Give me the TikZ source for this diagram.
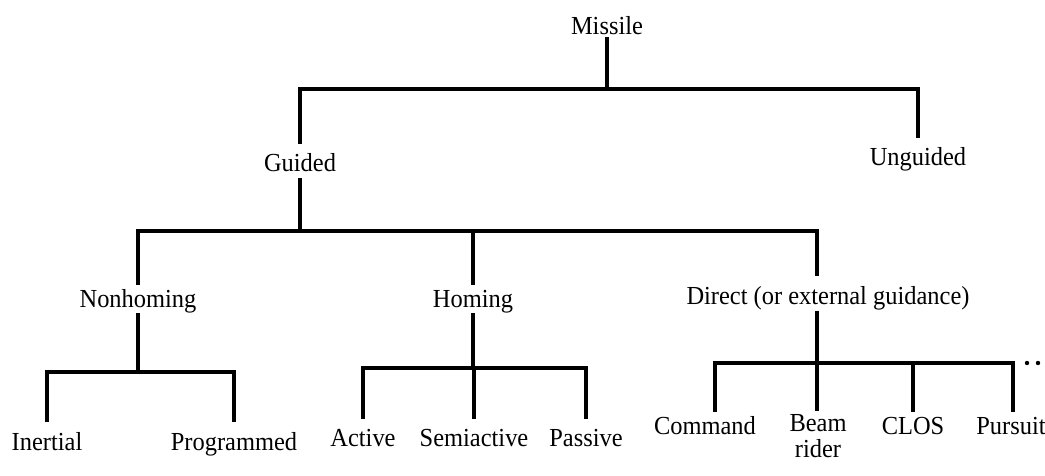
\documentclass[tikz,border=0pt]{standalone}
\usepackage{fontspec}
\setmainfont{Liberation Serif}[FakeStretch=0.94]
\begin{document}
\begin{tikzpicture}[x=1pt,y=-1pt,
  lbl/.style={anchor=base,inner sep=0pt,outer sep=0pt,text height=17pt,text depth=5pt,font=\fontsize{26}{30}\selectfont},
  lbltwo/.style={anchor=north,inner sep=0pt,outer sep=0pt,align=center,font=\fontsize{26}{26}\selectfont},
  tree/.style={line width=3.2pt,line cap=rect,line join=miter}]
\useasboundingbox (0,0) rectangle (1045,475);
% labels
\node[lbl] (missile) at (607,34) {Missile};
\node[lbl] (guided) at (300,171) {Guided};
\node[lbl] (unguided) at (918,165) {Unguided};
\node[lbl] (nonhoming) at (138,307) {Nonhoming};
\node[lbl] (homing) at (473,307) {Homing};
\node[lbl] (direct) at (828,304) {Direct (or external guidance)};
\node[lbl] (inertial) at (47,450) {Inertial};
\node[lbl] (programmed) at (234,450) {Programmed};
\node[lbl] (active) at (363,446) {Active};
\node[lbl] (semiactive) at (474,446) {Semiactive};
\node[lbl] (passive) at (586,446) {Passive};
\node[lbl] (command) at (705,434) {Command};
\node[lbltwo] (beam) at (818,414) {Beam\\rider};
\node[lbl] (clos) at (913,434) {CLOS};
\node[lbl] (pursuit) at (1011,434) {Pursuit};
% junction coordinates
\coordinate (b0) at (607,89);
\coordinate (b1) at (300,231);
\coordinate (dj) at (817,231);
\coordinate (b2) at (138,372);
\coordinate (b3) at (473,368);
\coordinate (b4) at (817,363);
\coordinate (cl) at (715,363);
\coordinate (cr) at (1013,363);
% level 1
\draw[tree] (missile.south) -- (b0);
\draw[tree] ([yshift=12pt]guided.north) |- (b0) -| ([yshift=12pt]unguided.north);
% level 2
\draw[tree] ([yshift=-4pt]guided.south) -- (b1);
\draw[tree] ([yshift=7pt]nonhoming.north) |- (b1) -- (dj) -- ([yshift=13pt]dj |- direct.north);
\draw[tree] ([yshift=7pt]homing.north) -- (homing.north |- b1);
% nonhoming
\draw[tree] ([yshift=-3pt]nonhoming.south) -- (b2);
\draw[tree] ([yshift=13pt]inertial.north) |- (b2) -| ([yshift=13pt]programmed.north);
% homing
\draw[tree] ([yshift=-3pt]homing.south) -- (b3);
\draw[tree] ([yshift=12pt]active.north) |- (b3) -| ([yshift=12pt]passive.north);
\draw[tree] ([yshift=12pt]semiactive.north) -- (semiactive.north |- b3);
% direct
\draw[tree] ([yshift=-4pt]b4 |- direct.south) -- (b4);
\draw[tree] ([yshift=7pt]cl |- command.north) -- (cl) -- (cr) -- ([yshift=7pt]cr |- pursuit.north);
\draw[tree] ([yshift=5pt]b4 |- beam.north) -- (b4);
\draw[tree] ([yshift=7pt]clos.north) -- (clos.north |- b4);
% continuation dots
\fill (1027,363) circle (2.2pt);
\fill (1038,363) circle (2.2pt);
\end{tikzpicture}
\end{document}
